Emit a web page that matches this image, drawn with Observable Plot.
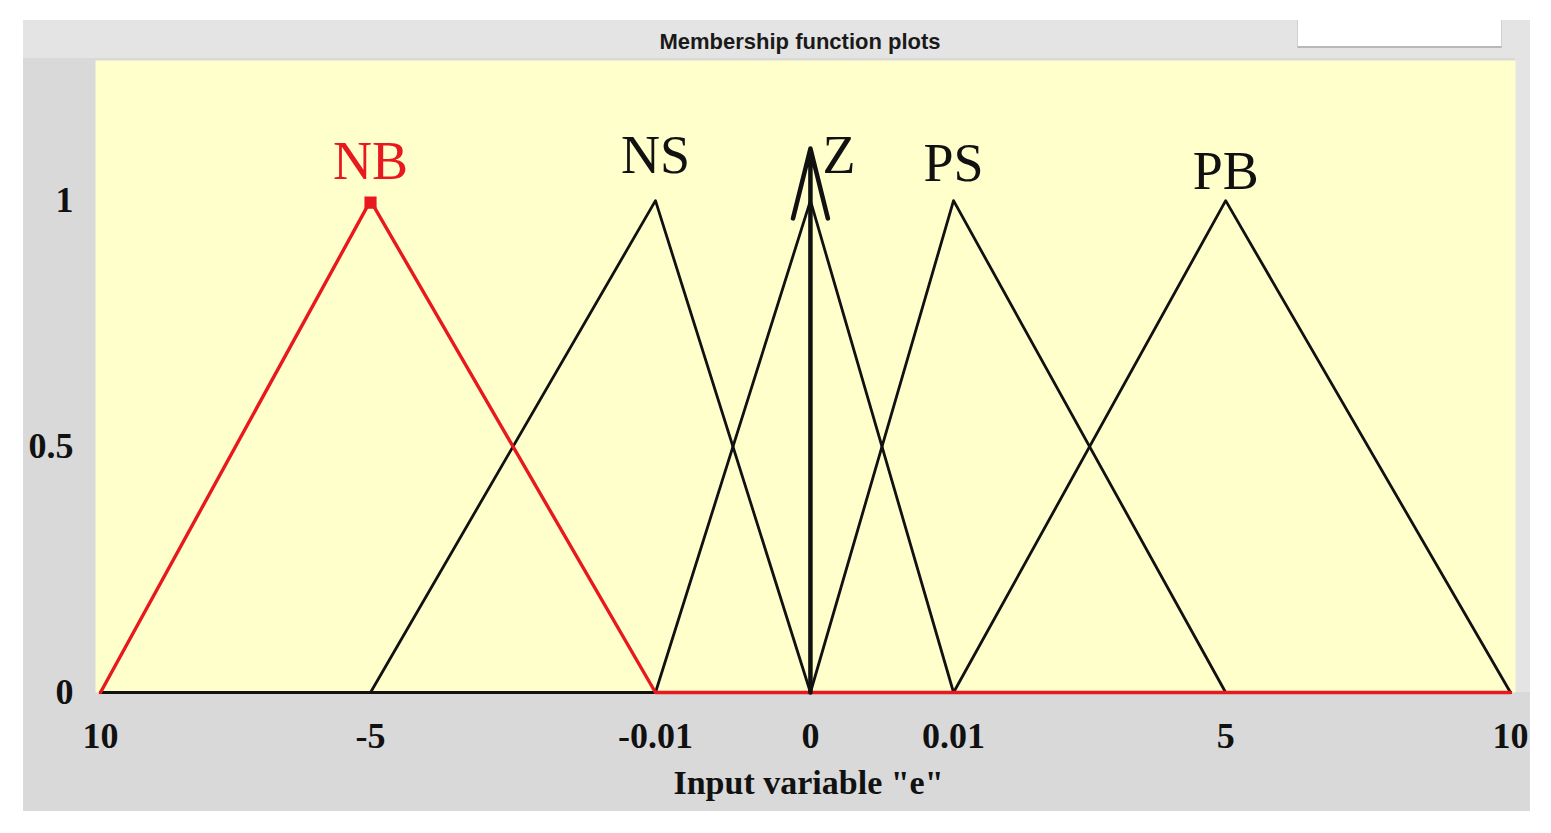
<!DOCTYPE html>
<html><head><meta charset="utf-8">
<script src="https://cdn.jsdelivr.net/npm/d3@7"></script>
<script src="https://cdn.jsdelivr.net/npm/@observablehq/plot@0.6"></script>
<style>
body{margin:0;background:#fff;}
#wrap{position:relative;width:1551px;height:833px;overflow:hidden;}
.bg{position:absolute;}
#chart{position:absolute;left:0;top:0;}
#title{position:absolute;left:0;width:1600px;top:29px;line-height:24px;text-align:center;font:bold 22px "Liberation Sans",Arial,sans-serif;color:#1a1a1a;}
</style></head>
<body><div id="wrap">
<div class="bg" style="left:23px;top:20px;width:1507px;height:791px;background:#d9d9d9"></div>
<div class="bg" style="left:23px;top:20px;width:1507px;height:38px;background:#e4e4e4"></div>
<div class="bg" style="left:1515px;top:58px;width:15px;height:634px;background:#e4e4e4"></div>
<div class="bg" style="left:1297px;top:20px;width:203px;height:26px;background:#fff;border-bottom:2px solid #b8b8b8;border-left:1px solid #d0d0d0;border-right:1px solid #d0d0d0"></div>
<div id="title">Membership function plots</div>
<div id="chart"></div>
</div>
<script>
// Membership functions (triangles)
const mfNames  = ["NB", "NS", "Z", "PS", "PB"];
const mfLeft   = [-10, -5, -0.01, 0, 0.01];
const mfPeak   = [-5, -0.01, 0, 0.01, 5];
const mfRight  = [-0.01, 0, 0.01, 5, 10];
const mfColors = ["#e8191e", "#111111", "#111111", "#111111", "#111111"];
const labelX   = [-5, -0.01, 0.002, 0.01, 5];
const labelY   = [1.045, 1.057, 1.057, 1.041, 1.024];
// Axis
const xTicks      = [-10, -5, -0.01, 0, 0.01, 5, 10];
const xTickLabels = ["10", "-5", "-0.01", "0", "0.01", "5", "10"];
const xTickSpots  = [0, 0.1915, 0.3936, 0.5035, 0.605, 0.798, 1]; // non-uniform axis spacing
const yTicks      = [0, 0.5, 1];
const yTickLabels = ["0", "0.5", "1"];
const xLabel = 'Input variable "e"';
const arrowTop = 1.106;
const xMin = -10, xMax = 10;

const xMap = d3.scaleLinear().domain(xTicks).range(xTickSpots);

const lineRows = [];
mfNames.forEach((name, i) => {
  [[xMin, 0], [mfLeft[i], 0], [mfPeak[i], 1], [mfRight[i], 0], [xMax, 0]]
    .forEach(([x, y]) => lineRows.push({name, x, y, color: mfColors[i]}));
});
const labelRows = mfNames.map((name, i) => ({name, x: labelX[i], y: labelY[i], color: mfColors[i]}));

// axis ticks live in the transformed (spot) space
const xTickText = (d, i) => {
  let k = xTickSpots.findIndex(s => Math.abs(s - d) < 1e-9);
  if (k < 0) k = xTicks.indexOf(d);
  if (k < 0) k = i;
  return xTickLabels[k];
};

const chart = Plot.plot({
  width: 1551,
  height: 833,
  marginLeft: 95,
  marginRight: 36,
  marginTop: 60,
  marginBottom: 141,
  style: {background: "transparent", fontFamily: "'Liberation Serif','Times New Roman',serif", color: "#111"},
  x: {transform: xMap, insetLeft: 5, insetRight: 5},
  y: {domain: [0, 1.285]},
  marks: [
    Plot.frame({fill: "#ffffcc", stroke: null}),
    Plot.axisX({ticks: xTickSpots, tickFormat: xTickText, tickSize: 0, tickPadding: 30, fontSize: 36, fontWeight: "bold", label: null}),
    Plot.axisY({ticks: yTicks, tickFormat: d => yTickLabels[yTicks.indexOf(d)], tickSize: 0, tickPadding: 22, fontSize: 36, fontWeight: "bold", label: null}),
    Plot.line(lineRows.filter(d => d.name !== "NB"), {x: "x", y: "y", z: "name", stroke: "color", strokeWidth: 2.8}),
    Plot.line(lineRows.filter(d => d.name === "NB"), {x: "x", y: "y", z: "name", stroke: "color", strokeWidth: 3.4}),
    Plot.arrow([{x: 0, y1: 0, y2: arrowTop}], {x1: "x", x2: "x", y1: "y1", y2: "y2", stroke: "#111", strokeWidth: 4.5, headLength: 24, headAngle: 28}),
    Plot.dot([{x: mfPeak[0], y: 1}], {x: "x", y: "y", symbol: "square", r: 6, fill: mfColors[0], stroke: mfColors[0], dy: 2}),
    Plot.text(labelRows, {x: "x", y: "y", text: "name", fill: "color", fontSize: 54, lineAnchor: "bottom"}),
    Plot.text([xLabel], {text: d => d, frameAnchor: "bottom", dy: 101, dx: 3, lineAnchor: "bottom", fontSize: 34, fontWeight: "bold", fill: "#111"})
  ]
});
document.getElementById("chart").appendChild(chart);
</script>
</body></html>
